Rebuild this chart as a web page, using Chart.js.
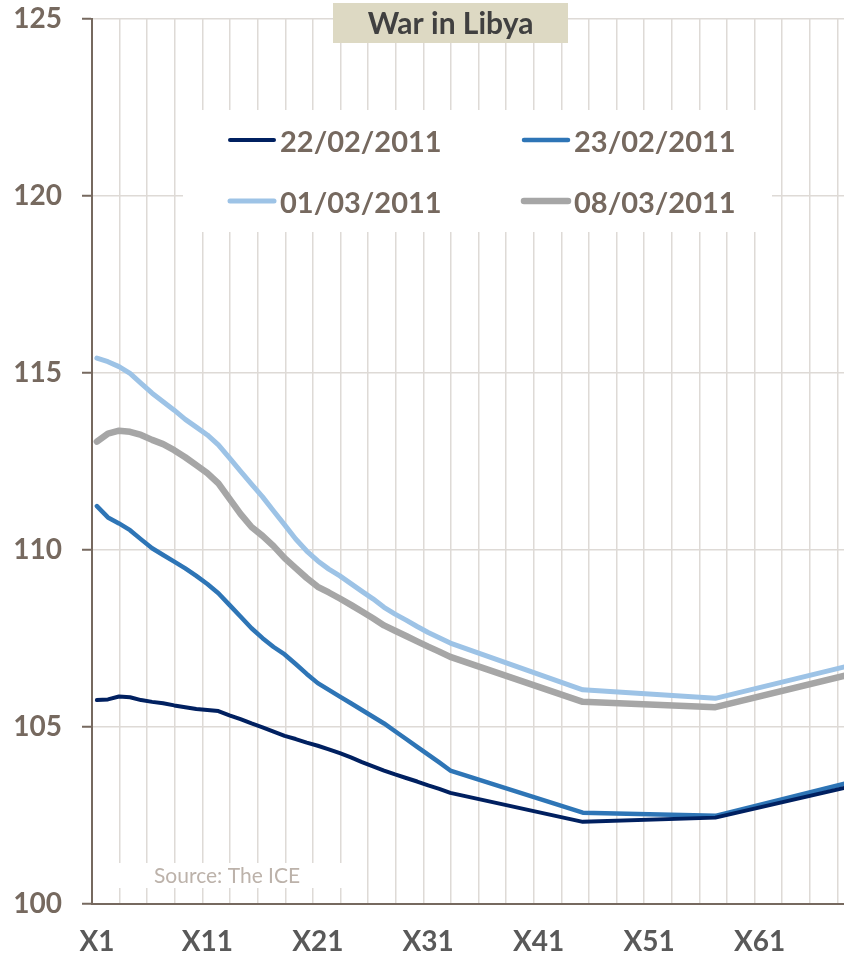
<!DOCTYPE html>
<html>
<head>
<meta charset="utf-8">
<script src="https://cdn.jsdelivr.net/npm/chart.js@4.4.1/dist/chart.umd.min.js"></script>
<style>
  body { margin: 0; background: #fff; }
  canvas { display: block; }
</style>
</head>
<body>
<canvas id="libya__graph" width="844" height="960"></canvas>
<script>
// contract month index (monthly to 33, then yearly)
const months = [1, 2, 3, 4, 5, 6, 7, 8, 9, 10, 11, 12, 13, 14, 15, 16, 17, 18, 19, 20,
  21, 22, 23, 24, 25, 26, 27, 28, 29, 30, 31, 32, 33, 45, 57, 69];

const curve22Feb = [105.76, 105.78, 105.86, 105.84, 105.76, 105.71, 105.67, 105.61, 105.56, 105.51,
  105.48, 105.45, 105.33, 105.22, 105.10, 104.99, 104.87, 104.75, 104.66, 104.56,
  104.47, 104.37, 104.26, 104.14, 104.01, 103.89, 103.77, 103.66, 103.56, 103.46,
  103.35, 103.25, 103.14, 102.32, 102.44, 103.30];
const curve23Feb = [111.24, 110.92, 110.75, 110.56, 110.30, 110.05, 109.86, 109.67, 109.48, 109.27,
  109.04, 108.78, 108.45, 108.12, 107.79, 107.51, 107.26, 107.05, 106.78, 106.50,
  106.24, 106.05, 105.86, 105.67, 105.48, 105.29, 105.10, 104.88, 104.66, 104.44,
  104.22, 104.00, 103.77, 102.58, 102.49, 103.42];
const curve01Mar = [115.42, 115.32, 115.18, 114.99, 114.71, 114.43, 114.19, 113.95, 113.69, 113.47,
  113.25, 112.97, 112.60, 112.23, 111.86, 111.50, 111.10, 110.71, 110.31, 109.97,
  109.69, 109.46, 109.27, 109.05, 108.83, 108.62, 108.38, 108.19, 108.02, 107.84,
  107.67, 107.52, 107.37, 106.05, 105.81, 106.72];
const curve08Mar = [113.06, 113.29, 113.37, 113.34, 113.25, 113.11, 112.99, 112.82, 112.62, 112.40,
  112.17, 111.88, 111.45, 111.02, 110.65, 110.40, 110.11, 109.77, 109.49, 109.21,
  108.96, 108.80, 108.63, 108.45, 108.26, 108.07, 107.87, 107.72, 107.57, 107.42,
  107.27, 107.13, 106.98, 105.71, 105.56, 106.47];

const xTickLabels = ["X1", "X11", "X21", "X31", "X41", "X51", "X61"];
const xTickValues = xTickLabels.map((l) => parseInt(l.slice(1)));

const chartTitle = "War in Libya";
const sourceText = "Source: The ICE";

const X_MIN = 0.556;
const X_MAX = 68.65;
const axisColor = "#76695f";
const gridColor = "#dedad6";

const libyaDecor = {
  id: "libyaDecor",
  beforeDatasetsDraw(chart) {
    const ctx = chart.ctx;
    ctx.save();
    // white boxes behind legend and source note
    ctx.fillStyle = "#ffffff";
    ctx.fillRect(183, 110, 589, 122);
    ctx.fillRect(110, 863, 245, 25);

    // title box
    ctx.fillStyle = "#ddd9c3";
    ctx.fillRect(333, 3, 235, 40);
    ctx.fillStyle = "#404040";
    ctx.font = "bold 30px Lato";
    ctx.textAlign = "center";
    ctx.textBaseline = "alphabetic";
    ctx.fillText(chartTitle, 450.5, 34);

    // source
    ctx.fillStyle = "#bcb2aa";
    ctx.font = "21px Lato";
    ctx.textAlign = "left";
    ctx.fillText(sourceText, 154, 883);

    // legend, two columns
    const colX = [228, 522];
    const rowY = [140, 201];
    chart.data.datasets.forEach((ds, i) => {
      const x = colX[i % 2];
      const y = rowY[Math.floor(i / 2)];
      ctx.strokeStyle = ds.borderColor;
      ctx.lineWidth = ds.borderWidth;
      ctx.lineCap = "round";
      ctx.beginPath();
      ctx.moveTo(x + 2, y);
      ctx.lineTo(x + 46, y);
      ctx.stroke();
      ctx.fillStyle = axisColor;
      ctx.font = "bold 29px Lato";
      ctx.textAlign = "left";
      ctx.textBaseline = "alphabetic";
      ctx.fillText(ds.label, x + 52, y + 12);
    });
    ctx.restore();
  },
};

const libyaGraph = () => {
  let ctx = document.getElementById("libya__graph").getContext("2d");
  let myChart = new Chart(ctx, {
    type: "line",
    data: {
      labels: months,
      datasets: [
        {
          label: "22/02/2011",
          data: curve22Feb,
          borderColor: "#002060",
          backgroundColor: "#002060",
          borderWidth: 4,
        },
        {
          label: "23/02/2011",
          data: curve23Feb,
          borderColor: "#2e75b6",
          backgroundColor: "#2e75b6",
          borderWidth: 4.5,
        },
        {
          label: "01/03/2011",
          data: curve01Mar,
          borderColor: "#9dc3e6",
          backgroundColor: "#9dc3e6",
          borderWidth: 5,
        },
        {
          label: "08/03/2011",
          data: curve08Mar,
          borderColor: "#a6a6a6",
          backgroundColor: "#a6a6a6",
          borderWidth: 6.5,
        },
      ],
    },
    options: {
      responsive: false,
      animation: false,
      layout: { padding: { top: 19, right: 0, left: 0, bottom: 0 } },
      elements: {
        point: { radius: 0 },
        line: { tension: 0, borderJoinStyle: "round", borderCapStyle: "round" },
      },
      plugins: {
        legend: { display: false },
        title: { display: false },
        tooltip: { enabled: false },
      },
      scales: {
        x: {
          type: "linear",
          min: X_MIN,
          max: X_MAX,
          afterBuildTicks: (scale) => {
            let ticks = xTickValues.map((v) => ({ value: v }));
            for (let v = X_MIN + 2.5; v < X_MAX; v += 2.5) {
              ticks.push({ value: v });
            }
            ticks.sort((a, b) => a.value - b.value);
            scale.ticks = ticks;
          },
          afterFit: (scale) => {
            scale.height = 56;
            scale.paddingLeft = 0;
            scale.paddingRight = 0;
          },
          grid: {
            color: (c) =>
              c.tick && xTickValues.includes(c.tick.value) ? "rgba(0,0,0,0)" : gridColor,
            lineWidth: 1.5,
            drawTicks: false,
          },
          border: { color: axisColor, width: 2 },
          ticks: {
            autoSkip: false,
            maxRotation: 0,
            padding: 21,
            color: "#595959",
            font: { family: "Lato", weight: "bold", size: 28 },
            callback: (value) => (xTickValues.includes(value) ? "X" + value : ""),
          },
        },
        y: {
          min: 100,
          max: 125,
          afterFit: (scale) => {
            scale.width = 92;
            scale.paddingTop = 0;
            scale.paddingBottom = 0;
          },
          grid: {
            color: gridColor,
            lineWidth: 1.5,
            tickColor: axisColor,
            tickLength: 10,
            tickWidth: 2,
          },
          border: { color: axisColor, width: 2 },
          ticks: {
            stepSize: 5,
            padding: 20,
            color: axisColor,
            font: { family: "Lato", weight: "bold", size: 28 },
          },
        },
      },
    },
    plugins: [libyaDecor],
  });
};

libyaGraph();
</script>
</body>
</html>
